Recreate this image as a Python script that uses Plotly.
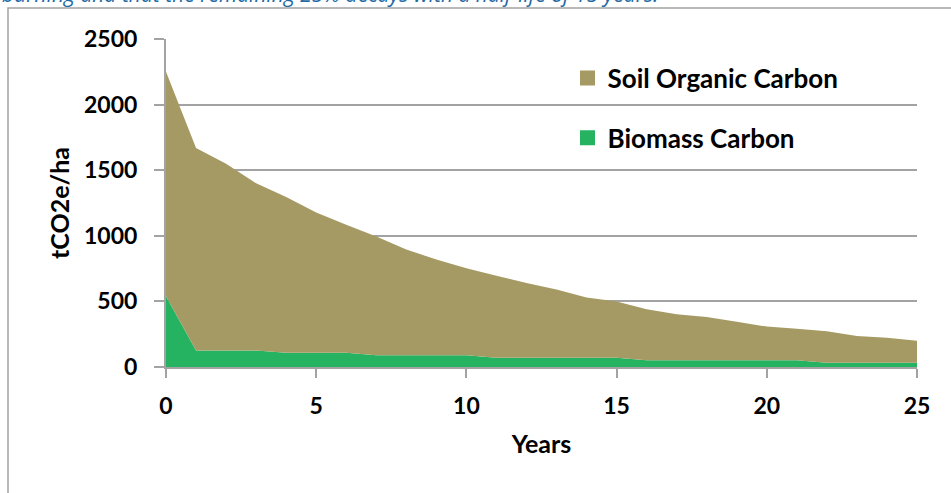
import plotly.graph_objects as go

years = list(range(0, 26))
biomass = [540, 125, 125, 125, 108, 108, 108, 90, 90, 90, 90, 70, 70, 70, 70, 70,
           52, 52, 52, 52, 52, 52, 32, 32, 32, 32]
total = [2250, 1670, 1550, 1400, 1295, 1178, 1085, 995, 895, 820, 752, 695, 640,
         590, 530, 500, 440, 402, 382, 345, 308, 292, 272, 236, 222, 200]
soil = [t - b for t, b in zip(total, biomass)]

series_names = ["Biomass Carbon", "Soil Organic Carbon"]
colors = ["#25B362", "#A59A64"]
x_ticks = [0, 5, 10, 15, 20, 25]
y_ticks = [0, 500, 1000, 1500, 2000, 2500]
note = "burning and that the remaining 25% decays with a half-life of 15 years."

W, H = 951, 493
L, R, T, B = 166, 34, 39, 125.5
PW, PH = W - L - R, H - T - B

def px(xp):  # pixel x -> paper
    return (xp - L) / PW

def py(yp):  # pixel y -> paper
    return (H - B - yp) / PH

FONT = "Lato"
fig = go.Figure()
for name, vals, col in zip(series_names, [biomass, soil], colors):
    fig.add_trace(go.Scatter(x=years, y=vals, stackgroup="one", mode="none",
                             fillcolor=col, name=name, showlegend=False,
                             hoverinfo="x+y+name"))
# legend entries (square swatches)
for i, (name, col) in enumerate(zip(series_names, colors)):
    fig.add_trace(go.Scatter(x=[None], y=[None], mode="markers", name=name,
                             marker=dict(symbol="square", size=15, color=col),
                             legendgroup=name, legendrank=2 - i))

grid = "#A3A3A3"
fig.update_layout(
    width=W, height=H,
    margin=dict(l=L, r=R, t=T, b=B, pad=0),
    paper_bgcolor="white", plot_bgcolor="white",
    font=dict(family=FONT, size=23, color="black"),
    legend=dict(x=px(567.5), y=py(54.5), xanchor="left", yanchor="top",
                bgcolor="rgba(0,0,0,0)", tracegroupgap=23, itemsizing="trace",
                font=dict(family=FONT, size=26, color="black", weight="bold")),
    xaxis=dict(range=[0, 25], tickvals=x_ticks, ticks="outside", ticklen=9,
               tickcolor=grid, tickwidth=2, showline=True, linecolor=grid,
               linewidth=2, showgrid=False, zeroline=False,
               tickfont=dict(family=FONT, size=23, weight="bold"),
               ticklabelstandoff=8,
               title=dict(text="Years", standoff=18,
                          font=dict(family=FONT, size=25, weight="bold"))),
    yaxis=dict(range=[0, 2500], tickvals=y_ticks, ticks="outside", ticklen=10,
               tickcolor=grid, tickwidth=2, showline=True, linecolor=grid,
               linewidth=2, showgrid=True, gridcolor=grid, gridwidth=2,
               zeroline=False,
               tickfont=dict(family=FONT, size=23, weight="bold"),
               ticklabelstandoff=12,
               title=dict(text="tCO2e/ha", standoff=7,
                          font=dict(family=FONT, size=25, weight="bold"))),
    shapes=[dict(type="rect", xref="paper", yref="paper",
                 x0=px(8), x1=px(W + 20), y0=py(H + 20), y1=py(8),
                 line=dict(color=grid, width=1.5), fillcolor="rgba(0,0,0,0)",
                 layer="below")],
    annotations=[dict(text=note, xref="paper", yref="paper", x=px(0), y=py(-6),
                      xanchor="left", yanchor="middle", showarrow=False,
                      font=dict(family="Open Sans", size=21, color="#1F6AA5",
                                style="italic"))],
)
fig.write_html("out.html", config={"displayModeBar": False},
               post_script="document.body.style.margin='0';document.body.style.overflow='hidden';")
